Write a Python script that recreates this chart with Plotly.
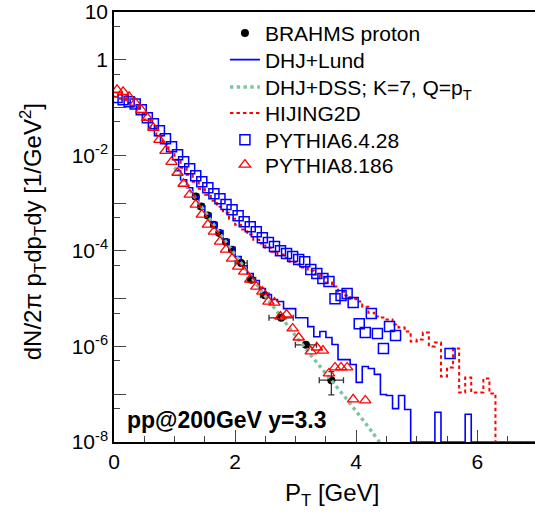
import plotly.graph_objects as go

FONT = "Liberation Sans, Arial, Helvetica, sans-serif"

# ---------------- data ----------------
# BRAHMS proton (pp @ 200 GeV, y = 3.3)
brahms_pt = [1.35, 1.44, 1.55, 1.65, 1.74, 1.85, 1.95, 2.10, 2.27, 2.49, 2.76, 3.17, 3.59]
brahms_y = [1.38e-3, 8.5e-4, 5.5e-4, 3.54e-4, 2.37e-4, 1.54e-4, 1.06e-4,
            5.6e-5, 2.5e-5, 1.18e-5, 3.97e-6, 1.08e-6, 1.97e-7]
brahms_ex = [0.05, 0.05, 0.05, 0.05, 0.05, 0.05, 0.05, 0.10, 0.07, 0.07, 0.20, 0.175, 0.20]
brahms_ey = [0, 0, 0, 0, 0, 0, 0, 0, 0, 0, 0, 0, 1.0e-7]

# DHJ+Lund histogram, 0.1 GeV bins starting at 1.0 GeV (0 = empty bin)
lund_lo = 1.0
lund_y = [4.75e-3, 3.08e-3, 2.10e-3, 1.36e-3, 8.8e-4, 6.0e-4, 3.9e-4, 2.65e-4, 1.72e-4, 1.17e-4,
          7.6e-5, 4.9e-5, 3.35e-5, 2.4e-5, 1.63e-5, 1.22e-5, 9.6e-6, 8.7e-6, 6.2e-6, 6.2e-6,
          4.0e-6, 4.0e-6, 2.6e-6, 1.6e-6, 2.05e-6, 1.54e-6, 1.1e-6, 5.3e-7, 5.3e-7, 4.2e-7,
          1.77e-7, 3.8e-7, 3.46e-7, 2.6e-7, 9.9e-8, 9.4e-8, 5.0e-8, 9.4e-8, 4.8e-8, 0,
          0, 0, 0, 4.2e-8, 0, 0, 0, 0, 3.8e-8, 0,
          0, 0, 0, 0, 0, 0, 0, 0, 0, 0]

# DHJ+DSS; K=7, Q=pT curve
dss_pt = [1.0, 1.25, 1.5, 1.75, 2.0, 2.25, 2.5, 2.75, 3.0, 3.25, 3.5, 3.75, 4.0, 4.25, 4.5]
dss_y = [5.6e-3, 1.9e-3, 6.6e-4, 2.3e-4, 8.3e-5, 3.0e-5, 1.12e-5, 4.3e-6, 1.66e-6,
         6.6e-7, 2.7e-7, 1.1e-7, 4.4e-8, 1.7e-8, 6.3e-9]

# HIJING2D histogram, 0.1 GeV bins starting at 0 GeV (0 = empty bin)
hij_lo = 0.0
hij_y = [0.1675, 0.152, 0.125, 0.103, 0.0774, 0.0553, 0.0377, 0.0256, 0.01745, 0.01187,
         8.07e-3, 5.5e-3, 3.93e-3, 2.8e-3, 2.0e-3, 1.5e-3, 1.12e-3, 8.4e-4, 6.3e-4, 4.72e-4,
         3.54e-4, 2.79e-4, 2.19e-4, 1.72e-4, 1.42e-4, 1.17e-4, 9.65e-5, 8.4e-5, 7.2e-5, 5.96e-5,
         5.16e-5, 4.47e-5, 3.86e-5, 3.19e-5, 2.76e-5, 2.17e-5, 1.79e-5, 1.41e-5, 1.16e-5, 1.0e-5,
         8.7e-6, 6.8e-6, 5.1e-6, 4.23e-6, 4.03e-6, 3.66e-6, 2.88e-6, 2.49e-6, 2.05e-6, 1.27e-6,
         1.40e-6, 1.95e-6, 1.0e-6, 1.21e-6, 2.36e-7, 3.63e-7, 9.1e-7, 1.09e-7, 2.24e-7, 1.09e-7,
         1.09e-7, 2.14e-7, 1.04e-7, 0, 0, 0, 0, 0, 0, 0]
bin_w = 0.1

# PYTHIA6.4.28
py6_pt = [0.05, 0.15, 0.25, 0.35, 0.45, 0.55, 0.65, 0.75, 0.85, 0.95,
          1.05, 1.15, 1.25, 1.35, 1.45, 1.55, 1.65, 1.75, 1.85, 1.95,
          2.05, 2.15, 2.25, 2.35, 2.45, 2.55, 2.65, 2.75, 2.85, 2.95,
          3.05, 3.15, 3.25, 3.35, 3.45, 3.55, 3.65, 3.75, 3.85, 3.95,
          4.05, 4.15, 4.25, 4.35, 4.45, 4.55, 4.65, 5.55]
py6_y = [0.163, 0.145, 0.1315, 0.119, 0.0895, 0.061, 0.0456, 0.0326, 0.0222, 0.0151,
         1.03e-2, 7.33e-3, 5.24e-3, 3.74e-3, 2.80e-3, 2.10e-3, 1.57e-3, 1.24e-3, 9.3e-4, 7.3e-4,
         5.45e-4, 4.08e-4, 3.21e-4, 2.52e-4, 1.89e-4, 1.49e-4, 1.23e-4, 1.01e-4, 8.8e-5, 7.6e-5,
         6.6e-5, 5.96e-5, 4.06e-5, 3.35e-5, 2.63e-5, 2.28e-5, 1.0e-5, 1.16e-5, 1.28e-5, 8.3e-6,
         3.0e-6, 1.96e-6, 4.9e-6, 1.87e-6, 9.1e-7, 2.6e-6, 1.7e-6, 7.1e-7]

# PYTHIA8.186
py8_pt = [0.05, 0.15, 0.25, 0.35, 0.45, 0.55, 0.65, 0.75, 0.85, 0.95,
          1.05, 1.15, 1.25, 1.35, 1.45, 1.55, 1.65, 1.75, 1.85, 1.95,
          2.05, 2.15, 2.25, 2.35, 2.45, 2.55, 2.65, 2.75, 2.85, 2.95,
          3.05, 3.25, 3.35, 3.45, 3.55, 3.65, 3.75, 3.85, 3.95, 4.15]
py8_y = [0.234, 0.213, 0.167, 0.125, 0.0895, 0.061, 0.0377, 0.0211, 0.01245, 7.33e-3,
         4.32e-3, 2.54e-3, 1.50e-3, 9.27e-4, 5.73e-4, 3.54e-4, 2.53e-4, 1.56e-4, 1.06e-4, 6.9e-5,
         4.69e-5, 3.69e-5, 2.51e-5, 1.79e-5, 1.41e-5, 8.7e-6, 8.3e-6, 4.23e-6, 4.66e-6, 2.38e-6,
         1.54e-6, 7.9e-7, 9.5e-7, 8.2e-7, 2.72e-7, 3.63e-7, 3.63e-7, 3.63e-7, 7.8e-8, 7.4e-8]

# axis settings
x_range = [0, 6.953]
y_exp_range = [-8, 1]
y_label_exps = [-8, -6, -4, -2, 0, 1]
y_label_text = ["10<sup>-8</sup>", "10<sup>-6</sup>", "10<sup>-4</sup>",
                "10<sup>-2</sup>", "1", "10"]
y_label_vals = [10.0 ** e for e in y_label_exps]
y_all_decades = [10.0 ** e for e in range(y_exp_range[0], y_exp_range[1] + 1)]
y_minor = [5 * 10.0 ** e for e in range(y_exp_range[0], y_exp_range[1])]
floor = 10.0 ** y_exp_range[0]


def hist_steps(lo, width, vals):
    edges = [lo + i * width for i in range(len(vals) + 1)]
    ys = [v if v > 0 else floor for v in vals]
    return edges, ys + [ys[-1]]


fig = go.Figure()

fig.add_trace(go.Scatter(
    x=brahms_pt, y=brahms_y, mode="markers", name="BRAHMS proton", legend="legend",
    marker=dict(symbol="circle", size=8, color="black"),
    error_x=dict(type="data", array=brahms_ex, color="#333333", thickness=1.3, width=3),
    error_y=dict(type="data", array=brahms_ey, color="#333333", thickness=1.3, width=3),
))

lx, ly = hist_steps(lund_lo, bin_w, lund_y)
fig.add_trace(go.Scatter(
    x=lx, y=ly, mode="lines", name="DHJ+Lund", legend="legend2",
    line=dict(color="#0000ff", width=1.6, shape="hv"),
))

fig.add_trace(go.Scatter(
    x=dss_pt, y=dss_y, mode="lines", name="DHJ+DSS; K=7, Q=p<sub>T</sub>", legend="legend3",
    line=dict(color="#7fc4a0", width=3.4, dash="dot", shape="spline"),
))

hx, hy = hist_steps(hij_lo, bin_w, hij_y)
fig.add_trace(go.Scatter(
    x=hx, y=hy, mode="lines", name="HIJING2D", legend="legend4",
    line=dict(color="#ff0000", width=2, dash="3.5px,3px", shape="hv"),
))

fig.add_trace(go.Scatter(
    x=py6_pt, y=py6_y, mode="markers", name="PYTHIA6.4.28", legend="legend5",
    marker=dict(symbol="square-open", size=10, color="#0000ff", line=dict(width=1.5)),
))

# drawn on an overlaid twin of the y axis (identical range) that carries the unlabeled ticks
fig.add_trace(go.Scatter(
    x=py8_pt, y=py8_y, mode="markers", name="PYTHIA8.186", legend="legend6", yaxis="y2",
    marker=dict(symbol="triangle-up-open", size=10, color="#ff0000", line=dict(width=1.3)),
))

# one legend per entry so each row sits where it does in the original
leg_rows = [0.9505, 0.8884, 0.8249, 0.7644, 0.7023, 0.6442]
leg_common = dict(x=0.2635, xanchor="left", yanchor="middle", bgcolor="rgba(0,0,0,0)",
                  borderwidth=0, font=dict(family=FONT, size=21, color="black"),
                  itemwidth=30)
legends = {}
for i, yy in enumerate(leg_rows):
    key = "legend" if i == 0 else "legend%d" % (i + 1)
    legends[key] = dict(leg_common, y=yy)

tick_style = dict(ticks="inside", ticklen=12, tickwidth=1.4, tickcolor="#444444")

fig.update_layout(
    width=535, height=515,
    margin=dict(l=114, r=0, t=12, b=73),
    paper_bgcolor="white", plot_bgcolor="white",
    font=dict(family=FONT, size=21, color="black"),
    showlegend=True,
    **legends,
    xaxis=dict(
        range=x_range, showgrid=False, zeroline=False,
        showline=True, linecolor="black", linewidth=1.5, mirror=True,
        tickmode="array", tickvals=[0, 2, 4, 6], ticktext=["0", "2", "4", "6"],
        tickfont=dict(family=FONT, size=21),
        minor=dict(tickmode="linear", tick0=0, dtick=0.5, ticks="inside", ticklen=6,
                   tickwidth=1.2, tickcolor="#444444", showgrid=False),
        layer="below traces",
        **tick_style,
    ),
    yaxis=dict(
        type="log", range=y_exp_range, showgrid=False, zeroline=False,
        showline=True, linecolor="black", linewidth=1.5, mirror=False,
        tickmode="array", tickvals=y_label_vals, ticktext=y_label_text,
        tickfont=dict(family=FONT, size=21),
        layer="below traces",
        **tick_style,
    ),
    yaxis2=dict(
        type="log", range=y_exp_range, overlaying="y", side="left", anchor="x",
        showgrid=False, zeroline=False, showline=False, showticklabels=False,
        tickmode="array", tickvals=y_all_decades,
        minor=dict(tickmode="array", tickvals=y_minor, ticks="inside", ticklen=6,
                   tickwidth=1.2, tickcolor="#444444", showgrid=False),
        **tick_style,
    ),
    annotations=[
        dict(text="<b>pp@200GeV y=3.3</b>", xref="paper", yref="paper",
             x=0.026, y=0.051, xanchor="left", yanchor="middle", showarrow=False,
             font=dict(family=FONT, size=23, color="black")),
        dict(text="dN/2\u03c0 p<sub>T</sub>dp<sub>T</sub>dy [1/GeV<sup>2</sup>]",
             xref="paper", yref="paper", x=-0.1924, y=0.49, textangle=-90,
             xanchor="center", yanchor="middle", showarrow=False,
             font=dict(family=FONT, size=24, color="black")),
        dict(text="P<sub>T</sub> [GeV]", xref="paper", yref="paper",
             x=0.518, y=-0.123, xanchor="center", yanchor="middle", showarrow=False,
             font=dict(family=FONT, size=24, color="black")),
    ],
)

fig.write_html("out.html")
